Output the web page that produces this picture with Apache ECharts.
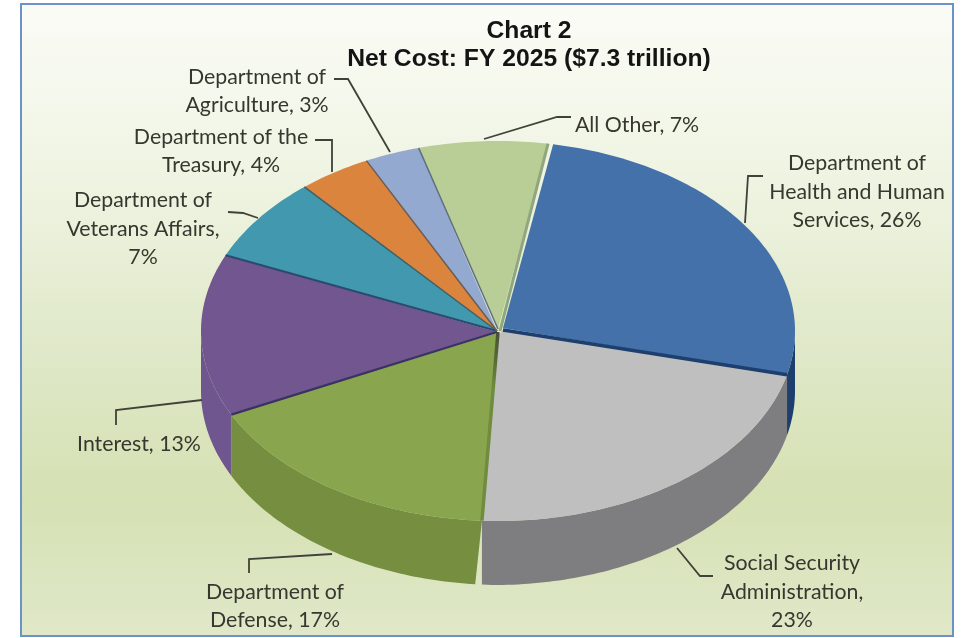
<!DOCTYPE html>
<html>
<head>
<meta charset="utf-8">
<style>html,body{margin:0;padding:0;background:#fff}#c{width:967px;height:638px;filter:blur(0.45px)}</style>
<script src="https://cdn.jsdelivr.net/npm/echarts@6/dist/echarts.min.js"></script>
</head>
<body>
<div id="c"></div>
<script>
// ---- data ----
const categories = ['Department of Health and Human Services','Social Security Administration','Department of Defense','Interest','Department of Veterans Affairs','Department of the Treasury','Department of Agriculture','All Other'];
const shares = [26, 23, 17, 13, 7, 4, 3, 7];
const labelTexts = ['Department of\nHealth and Human\nServices, 26%','Social Security\nAdministration,\n23%','Department of\nDefense, 17%','Interest, 13%','Department of\nVeterans Affairs,\n7%','Department of the\nTreasury, 4%','Department of\nAgriculture, 3%','All Other, 7%'];
const titleLines = ['Chart 2','Net Cost: FY 2025 ($7.3 trillion)'];

// ---- styles ----
const topColors  = ['#4471a9','#bfbfc0','#89a54e','#71568f','#4198af','#db843d','#93a9cf','#b9cd96'];
const sideColors = ['#1c3f6e','#7e7e80','#758e3f','#70568f','#35808f','#b86d30','#7a8db0','#9ab07a'];
const seamColors = ['#8fa77c','#1c3f6e','#6f8c3f','#3a3262','#2b4a6e','#3f5f68','#6a5c52','#5f7080'];
const seamWidths = [3, 3.5, 2.5, 2.2, 2, 1.5, 1.5, 1.5];

// ---- layout of the tilted pie ----
const CX = 498, CY = 331, RX = 297, RY = 190, DEPTH = 64, START = 9.7;
const boundaryNudge = [1, 0, -3, -3.4, -0.6, 0, 0, 0, 0];  // perspective shift of each slice edge, degrees
const baseLean = [0, 0, 1.3, 0, 0, 0, 0, 0];               // side wall narrows towards the base
const apexShift = [[5,-3],[5,-1],[-1,2],[-1,1],[-1,0],[-1,0],[-1,0],[0,-2]];
const labelPos = [[857,192],[792,592],[275,606],[139,444],[143,229],[221,151],[257,91],[637,125]];
const leaders = [
  [[745,223],[748,176],[763,176]],
  [[677,548],[700,576],[713,576]],
  [[332,554],[249,559],[249,573]],
  [[202,400],[116,410],[116,425]],
  [[258,218],[243,213],[228,212]],
  [[332,172],[332,140],[315,140]],
  [[390,152],[348,79],[334,79]],
  [[484,139],[557,117],[571,117]]
];

function depthAt(t) { return DEPTH - 0.045 * Math.abs(t - 180); }
function pt(t, drop) {
  const a = t * Math.PI / 180;
  return [CX + RX * Math.sin(a), CY - RY * Math.cos(a) + (drop ? depthAt(t) : 0)];
}
function arc(t0, t1, drop) {
  const out = [], n = Math.max(2, Math.ceil(Math.abs(t1 - t0)));
  for (let k = 0; k <= n; k++) out.push(pt(t0 + (t1 - t0) * k / n, drop));
  return out;
}
const total = shares.reduce((a, b) => a + b, 0);
function edges(i) {
  let acc = 0;
  for (let k = 0; k < i; k++) acc += shares[k];
  const t0 = START + acc / total * 360 + boundaryNudge[i];
  const t1 = START + (acc + shares[i]) / total * 360 + boundaryNudge[i + 1];
  return [t0, t1];
}

function renderSlice(params, api) {
  const i = api.value(1);
  const [t0, t1] = edges(i);
  const apex = [CX + apexShift[i][0], CY + apexShift[i][1]];
  const children = [];
  // side wall: only the part facing the viewer (90..270 degrees)
  const s0 = Math.max(t0, 90), s1 = Math.min(t1, 270);
  if (s1 > s0) {
    const upper = arc(s0, s1, false);
    const lower = arc(s0 + baseLean[i], s1, true).reverse();
    children.push({ type: 'polygon', shape: { points: upper.concat(lower) }, style: { fill: sideColors[i] } });
  }
  // top face (the second slice also reaches back to the common centre)
  let face = [apex].concat(arc(t0, t1, false));
  if (i === 1) face.push([CX + 1, CY + 4]);
  children.push({ type: 'polygon', shape: { points: face }, style: { fill: topColors[i] } });
  // seam along the leading edge of the slice
  const from = (i === 0) ? [CX + 2, CY] : (i === 2 ? [CX, CY + 1] : apex);
  const to = (i === 0) ? pt(START) : pt(t0);
  const seamStroke = (i === 2)
    ? new echarts.graphic.LinearGradient(0, 0, 0, 1, [
        { offset: 0, color: '#454f30' }, { offset: 0.16, color: '#5a6b38' },
        { offset: 0.3, color: '#6f8c3f' }, { offset: 1, color: '#6f8c3f' }])
    : seamColors[i];
  children.push({ type: 'line', z2: 10,
    shape: { x1: from[0], y1: from[1], x2: to[0], y2: to[1] },
    style: { stroke: seamStroke, lineWidth: i === 2 ? 3.5 : seamWidths[i] } });
  // leader and label
  children.push({ type: 'polyline', z2: 20, shape: { points: leaders[i] },
    style: { stroke: '#3f4238', lineWidth: 1.8, fill: null } });
  children.push({ type: 'text', z2: 20, x: labelPos[i][0], y: labelPos[i][1],
    style: { text: labelTexts[i], fill: '#36382f', font: '21.3px Lato', align: 'center', verticalAlign: 'middle', lineHeight: 28.5 } });
  return { type: 'group', children };
}

const chart = echarts.init(document.getElementById('c'), null, { renderer: 'canvas' });
chart.setOption({
  animation: false,
  backgroundColor: '#ffffff',
  title: {
    text: titleLines.join('\n'),
    left: 524, top: 12, textAlign: 'center',
    textStyle: { fontFamily: 'Liberation Sans', fontWeight: 'bold', fontSize: 24.7, lineHeight: 28, color: '#141414' }
  },
  graphic: [{
    type: 'rect', z: -10, silent: true,
    shape: { x: 21, y: 4, width: 932, height: 632 },
    style: {
      stroke: '#6b93c5', lineWidth: 2,
      fill: new echarts.graphic.LinearGradient(0, 0, 0, 1, [
        { offset: 0, color: '#fbfcf7' },
        { offset: 0.3, color: '#eef3e0' },
        { offset: 0.55, color: '#dfe8c8' },
        { offset: 0.78, color: '#d5e1b3' },
        { offset: 1, color: '#e0e8c9' }
      ])
    }
  }],
  series: [{
    type: 'custom',
    coordinateSystem: 'none',
    renderItem: renderSlice,
    data: shares.map((v, i) => ({ name: categories[i], value: [v, i] }))
  }]
});
</script>
</body>
</html>
